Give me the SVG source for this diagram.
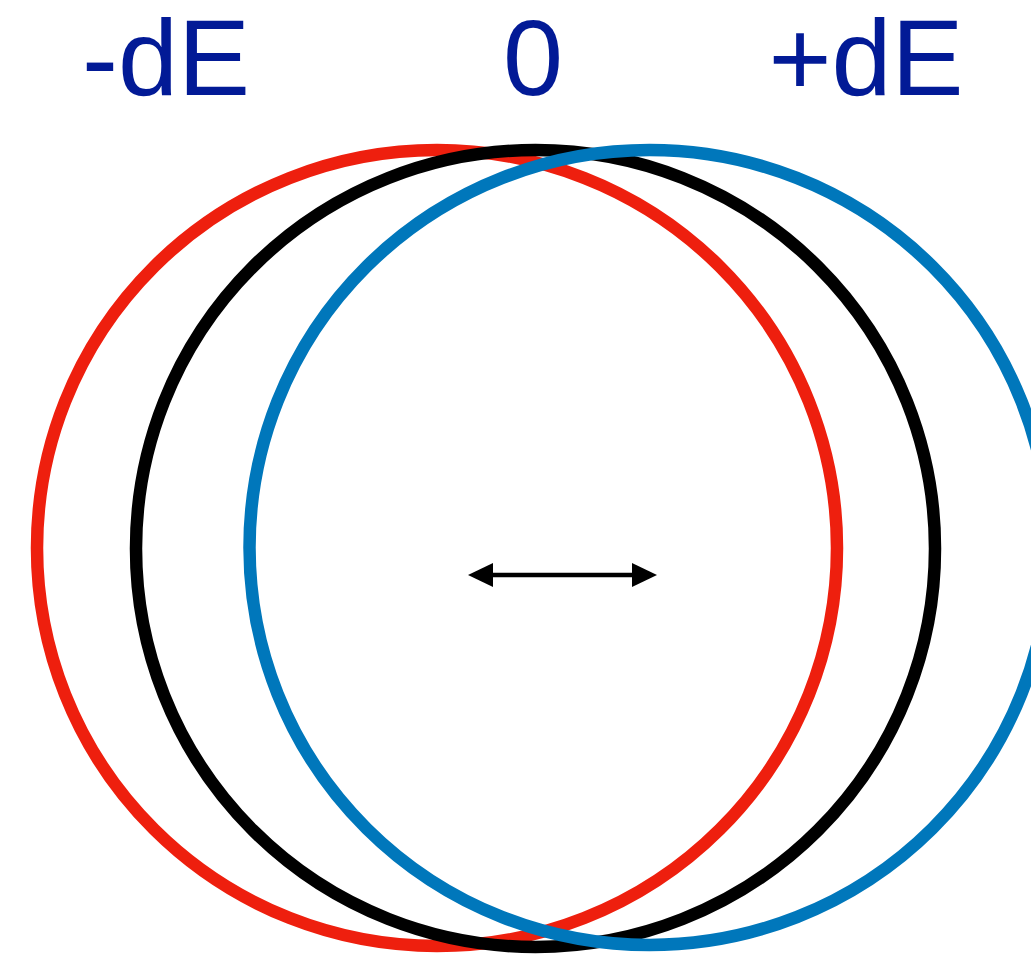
<svg xmlns="http://www.w3.org/2000/svg" width="1031" height="961" viewBox="0 0 1031 961">
<style>
.lbl{font-family:"Liberation Sans",Arial,sans-serif;font-size:108px;fill:#021A96;text-anchor:middle}
.ring{fill:none;stroke-width:12.5}
</style>
<defs>
<marker id="ah" viewBox="0 0 25 24" refX="0" refY="12" markerWidth="25" markerHeight="24" markerUnits="userSpaceOnUse" orient="auto-start-reverse">
<path d="M0,0 L25,12 L0,24 Z" fill="#000"/>
</marker>
</defs>
<rect width="1031" height="961" fill="#fff"/>
<g id="label-minus"><text class="lbl" x="166" y="95">-dE</text></g>
<g id="label-zero"><text class="lbl" x="533" y="95">0</text></g>
<g id="label-plus"><text class="lbl" x="866" y="95">+dE</text></g>
<g id="circle-red"><ellipse class="ring" cx="437" cy="548" rx="400" ry="398" stroke="#EE1F0E"/></g>
<g id="circle-black"><ellipse class="ring" cx="535.5" cy="548.5" rx="399.5" ry="398.5" stroke="#000"/></g>
<g id="circle-blue"><ellipse class="ring" cx="649.5" cy="547.5" rx="400" ry="397.5" stroke="#0077BB"/></g>
<g id="connectors">
<line x1="493" y1="575" x2="632" y2="575" stroke="#000" stroke-width="4.5" marker-start="url(#ah)" marker-end="url(#ah)"/>
</g>
</svg>
